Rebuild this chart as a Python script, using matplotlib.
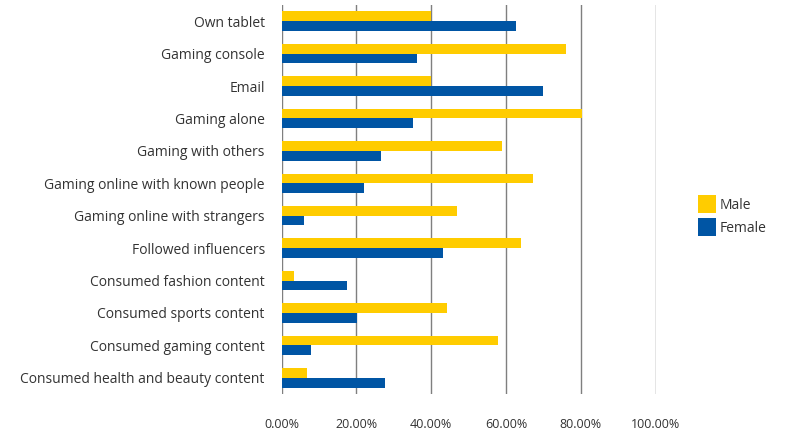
import matplotlib
matplotlib.use('Agg')
import matplotlib.pyplot as plt
import numpy as np

# Dados
categorias = ["Own tablet", "Gaming console", "Email", "Gaming alone",
              "Gaming with others", "Gaming online with known people",
              "Gaming online with strangers", "Followed influencers",
              "Consumed fashion content", "Consumed sports content",
              "Consumed gaming content", "Consumed health and beauty content"]
male = [40.0, 76.2, 40.0, 80.4, 59.0, 67.3, 47.0, 64.1, 3.3, 44.3, 58.0, 6.8]
female = [62.8, 36.3, 70.0, 35.2, 26.6, 22.1, 6.0, 43.2, 17.5, 20.2, 7.9, 27.7]
ticks_x = [0, 20, 40, 60, 80, 100]
tick_labels = ["0.00%", "20.00%", "40.00%", "60.00%", "80.00%", "100.00%"]

plt.rcParams['font.family'] = ['Open Sans', 'DejaVu Sans']

fig = plt.figure(figsize=(8.05, 4.4), dpi=100)
ax = fig.add_axes([0.3497, 0.1045, 0.4646, 0.8841])

y = np.arange(len(categorias))
h = 0.30
ax.barh(y - h / 2, male, height=h, color='#FFCC00', label='Male', zorder=3)
ax.barh(y + h / 2, female, height=h, color='#0055A4', label='Female', zorder=3)

ax.set_ylim(len(categorias) - 0.5, -0.5)
ax.set_xlim(0, 100)
ax.set_yticks(y)
ax.set_yticklabels(categorias, fontsize=10, color='#333333')
ax.set_xticks(ticks_x)
ax.set_xticklabels(tick_labels, fontsize=9, color='#333333')
ax.tick_params(length=0)
ax.tick_params(axis='y', pad=12)
ax.tick_params(axis='x', pad=17)
for s in ax.spines.values():
    s.set_visible(False)
ax.xaxis.grid(True, color='#7f7f7f', linewidth=1, zorder=0)
ax.set_axisbelow(True)

fig.legend(loc='center left', bbox_to_anchor=(0.852, 0.51), frameon=False,
           fontsize=10, handlelength=1.25, handleheight=1.6, handletextpad=0.25,
           labelspacing=0.35, labelcolor='#333333')

fig.savefig('out.png', dpi=100)
